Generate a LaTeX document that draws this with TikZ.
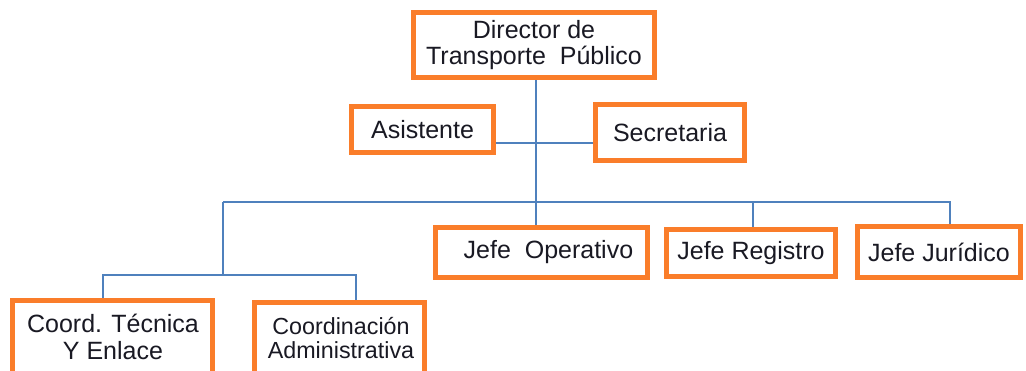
\documentclass[tikz,border=0pt]{standalone}
\usepackage{fontspec}
\setmainfont{Liberation Sans}
\usetikzlibrary{backgrounds}
\definecolor{boxorange}{RGB}{250,125,42}
\definecolor{lineblue}{RGB}{79,129,189}
\definecolor{txt}{RGB}{25,25,35}
\begin{document}
\begin{tikzpicture}[x=1pt,y=-1pt,
  box/.style={draw=boxorange, line width=5pt, fill=white, rectangle, inner sep=0pt,
    align=center, text=txt, font=\fontsize{25}{26.5}\selectfont},
  lbl/.style={inner sep=0pt, align=center, text=txt},
  conn/.style={draw=lineblue, line width=2.8pt}]
\useasboundingbox (0,0) rectangle (1026,370);
\clip (0,0) rectangle (1026,370);
% coordinates of the connector lines
\coordinate (bus) at (536,202);
\coordinate (busL) at (223,202);
\coordinate (busR) at (950,202);
\coordinate (regx) at (753,202);
\coordinate (hy) at (536,143);
\coordinate (sub) at (223,275);
\coordinate (subL) at (103,275);
\coordinate (subR) at (356,275);
% boxes
\path (534,45) node[box, minimum width=241pt, minimum height=65pt] (dir) {Director de\\Transporte\ \ Público};
\path (422.5,129.5) node[box, minimum width=142pt, minimum height=46pt] (asis) {Asistente};
\path (670,132.5) node[box, minimum width=149pt, minimum height=56pt] (secr) {Secretaria};
\path (541.5,252.5) node[box, minimum width=212pt, minimum height=50pt] (op) {\ \ Jefe\ \ Operativo};
\path (751,253) node[box, minimum width=169pt, minimum height=47pt] (reg) {Jefe Registro};
\path (939,252) node[box, minimum width=163pt, minimum height=51pt] (jur) {Jefe Jurídico};
\path (112.5,349) node[box, minimum width=200pt, minimum height=97pt] (c1) {};
\path (339.5,350) node[box, minimum width=170pt, minimum height=95pt] (c2) {};
\path (113,337) node[lbl, font=\fontsize{25}{27}\selectfont] (c1t) {Coord. Técnica\\Y Enlace};
\path (341,338) node[lbl, font=\fontsize{23.3}{24}\selectfont] (c2t) {Coordinación\\Administrativa};
% connectors (behind boxes)
\begin{scope}[on background layer]
\draw[conn] (dir.south -| bus) -- (bus |- op.north);
\draw[conn] (asis.east |- hy) -- (secr.west |- hy);
\draw[conn] (busL) -- (busR) -- (jur.north -| busR);
\draw[conn] (regx) -- (reg.north -| regx);
\draw[conn] (busL) -- (sub);
\draw[conn] (c1.north -| subL) -- (subL) -- (subR) -- (c2.north -| subR);
\end{scope}
\end{tikzpicture}
\end{document}
